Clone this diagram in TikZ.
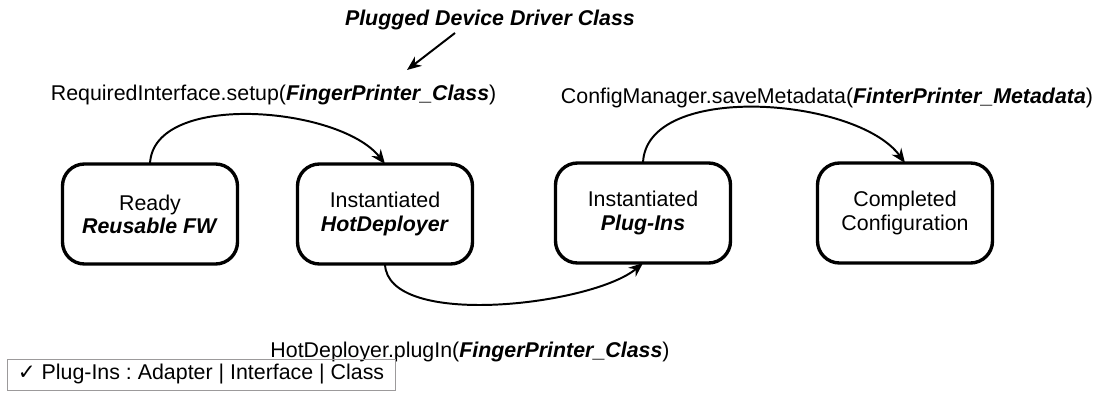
\documentclass[tikz,border=0pt]{standalone}
\usepackage{fontspec}
\setmainfont{Liberation Sans}
\newfontfamily\checkfont{DejaVu Sans}
\newcommand*{\diagfont}{\fontsize{15.2}{16.5}\selectfont\frenchspacing}
\newcommand*{\kw}[1]{\textbf{\textit{#1}}}
\definecolor{legendgrey}{cmyk}{0.00,0.00,0.00,0.45}
\usetikzlibrary{arrows.meta}
\usetikzlibrary{positioning}
\tikzstyle{base}=[inner sep=0pt, outer sep=0pt]
\tikzstyle{state}=[draw=black, line width=2.4pt, rounded corners=0.55cm, minimum width=4.375cm, minimum height=2.5cm, align=center]
\tikzstyle{flow}=[line width=1.4pt, -{Stealth[length=3.6mm, width=2.9mm]}]

\begin{document}
\begin{tikzpicture}[base]
    \diagfont
        \node [state] (ready) at (3.75,4.625) {Ready\\\kw{Reusable FW}};
        \node [state] (hotdep) at (9.625,4.625) {Instantiated\\\kw{HotDeployer}};
        \node [state] (plugins) at (16.075,4.65) {Instantiated\\\kw{Plug-Ins}};
        \node [state] (done) at (22.625,4.65) {Completed\\Configuration};
        \node (setup) at (6.84,7.6) {RequiredInterface.setup(\kw{FingerPrinter\_Class})};
        \node (save) at (20.675,7.525) {ConfigManager.saveMetadata(\kw{FinterPrinter\_Metadata})};
        \node (plugin) at (11.75,1.175) {HotDeployer.plugIn(\kw{FingerPrinter\_Class})};
        \node [anchor=west] (driver) at (8.625,9.475) {\kw{Plugged Device Driver Class}};
        \node [draw=legendgrey, line width=0.6pt, minimum width=9.7cm, minimum height=0.775cm] (legend) at (5.025,0.6125) {{\checkfont ✓} Plug-Ins : Adapter | Interface | Class};
        \coordinate (drvtail) at (11.375,9.15);
        \coordinate (drvtip) at (10.175,8.225);
        \draw [flow] (drvtail) -- (drvtip);
        \draw [flow] (ready.north) to [out=88, in=128, looseness=0.8] (hotdep.north);
        \draw [flow] (plugins.north) to [out=88, in=126, looseness=0.8] (done.north);
        \draw [flow] (hotdep.south) to [out=-88, in=-140, looseness=0.65] (plugins.south);
        \path [use as bounding box] (0,0) rectangle (27.775,9.975);
    \end{tikzpicture}
\end{document}
